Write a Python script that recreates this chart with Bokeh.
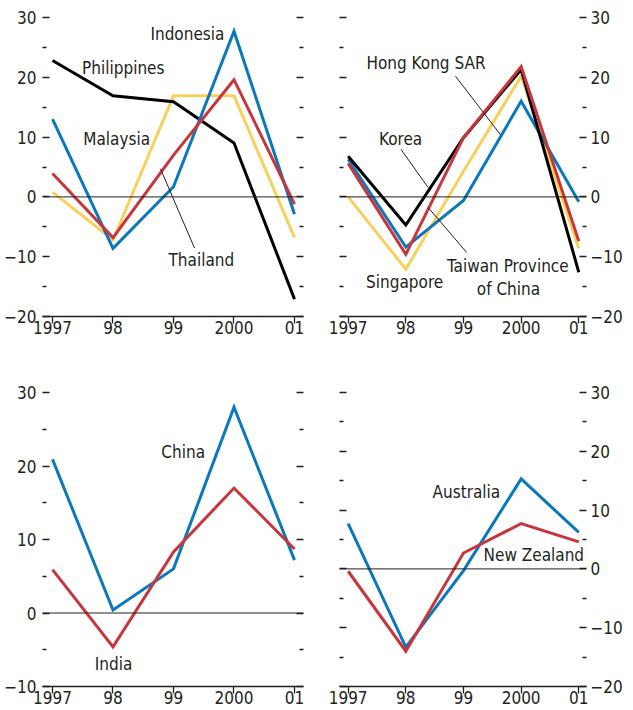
from bokeh.plotting import figure
from bokeh.models import FixedTicker, LinearAxis, Span, Row, Column, ColumnDataSource
from bokeh.core.properties import value
from bokeh.embed import file_html
from bokeh.resources import INLINE

# ---------------- data ----------------
years = [1997, 1998, 1999, 2000, 2001]
year_labels = ["1997", "98", "99", "2000", "01"]

# ASEAN-4
indonesia = [13.0, -8.6, 1.7, 27.7, -2.9]
philippines = [22.8, 16.9, 15.9, 9.0, -17.1]
thailand = [3.9, -6.8, 7.0, 19.6, -1.2]
malaysia = [0.8, -7.2, 16.9, 16.9, -6.8]

# NIEs
hong_kong = [6.3, -8.4, -0.6, 16.0, -0.8]
korea = [6.8, -4.7, 9.9, 21.3, -12.6]
taiwan = [5.6, -9.6, 9.9, 21.8, -7.4]
singapore = [0.0, -12.1, 4.3, 20.2, -8.6]

# China / India
china = [20.9, 0.4, 6.0, 28.0, 7.2]
india = [5.9, -4.6, 8.3, 17.0, 8.7]

# Australia / New Zealand
australia = [7.7, -13.3, -0.3, 15.3, 6.2]
new_zealand = [-0.4, -14.0, 2.7, 7.7, 4.6]

ticks_a = [-20, -10, 0, 10, 20, 30]
minor_a = [-15, -5, 5, 15, 25]
ticks_b = [-10, 0, 10, 20, 30]
minor_b = [-5, 5, 15, 25]

# ---------------- style ----------------
FONT = "DejaVu Sans Condensed, Liberation Sans"
INK = "#231f20"
BLUE = "#0a78be"
RED = "#c8363c"
YELLOW = "#f8d15c"
BLACK = "#000000"
FS = "17px"


def style_y(ax, ticks, minor, show_labels, standoff=6):
    ax.ticker = FixedTicker(ticks=ticks, minor_ticks=minor)
    ax.axis_line_color = None
    ax.major_tick_in = 7
    ax.major_tick_out = 0
    ax.minor_tick_in = 4
    ax.minor_tick_out = 0
    ax.major_tick_line_color = INK
    ax.minor_tick_line_color = INK
    ax.major_tick_line_width = 1.3
    ax.minor_tick_line_width = 1.3
    ax.major_label_standoff = standoff
    ax.major_label_text_font = FONT
    ax.major_label_text_color = INK
    if show_labels:
        ax.major_label_text_font_size = FS
    else:
        ax.major_label_text_font_size = "0px"
        ax.major_label_text_alpha = 0


def panel(xr, yr, ticks, minor, label_side, w, h, bl, br, bt, bb):
    p = figure(width=w, height=h, x_range=xr, y_range=yr,
               output_backend="svg", toolbar_location=None,
               min_border_left=bl, min_border_right=br,
               min_border_top=bt, min_border_bottom=bb,
               y_axis_location=label_side)
    p.outline_line_color = None
    p.grid.visible = False
    p.background_fill_color = "white"
    p.border_fill_color = "white"

    xa = p.xaxis[0]
    xa.ticker = FixedTicker(ticks=years)
    xa.major_label_overrides = {y: l for y, l in zip(years, year_labels)}
    xa.axis_line_color = INK
    xa.axis_line_width = 1.5
    xa.major_tick_in = 0
    xa.major_tick_out = 7
    xa.major_tick_line_color = INK
    xa.major_tick_line_width = 1.3
    xa.minor_tick_line_color = None
    xa.major_label_standoff = -3
    xa.major_label_text_font = FONT
    xa.major_label_text_font_size = FS
    xa.major_label_text_color = INK

    style_y(p.yaxis[0], ticks, minor, True, 6 if label_side == "left" else 4)
    other = LinearAxis()
    style_y(other, ticks, minor, False, 0)
    p.add_layout(other, "right" if label_side == "left" else "left")

    p.add_layout(Span(location=0, dimension="width", line_color=INK, line_width=1))
    return p


def draw(p, series, labels, leaders):
    for vals, color in series:
        p.line(years, vals, line_color=color, line_width=3, line_join="miter")
    if leaders:
        src = ColumnDataSource(dict(x0=[l[0] for l in leaders], y0=[l[1] for l in leaders],
                                    x1=[l[2] for l in leaders], y1=[l[3] for l in leaders]))
        p.segment("x0", "y0", "x1", "y1", source=src, line_color=INK, line_width=1)
    src = ColumnDataSource(dict(x=[l[1] for l in labels], y=[l[2] for l in labels],
                                t=[l[0] for l in labels]))
    p.text("x", "y", "t", source=src, text_font=value(FONT), text_font_size=FS,
           text_color=INK, text_align="center", text_baseline="middle")


XR_L = (1996.8347, 2001.1488)
XR_R = (1996.85, 2001.1333)

p1 = panel(XR_L, (-20, 30), ticks_a, minor_a, "left", 321, 346, 42, 18, 17, 30)
draw(p1, [(malaysia, YELLOW), (philippines, BLACK), (indonesia, BLUE), (thailand, RED)],
     [("Indonesia", 1999.23, 27.2), ("Philippines", 1998.17, 21.5),
      ("Malaysia", 1998.06, 9.7), ("Thailand", 1999.46, -10.6)],
     [(1998.785, 4.70, 1999.347, -8.56)])

p2 = panel(XR_R, (-20, 30), ticks_a, minor_a, "right", 304, 346, 18, 29, 17, 30)
draw(p2, [(singapore, YELLOW), (hong_kong, BLUE), (korea, BLACK), (taiwan, RED)],
     [("Hong Kong SAR", 1998.35, 22.4), ("Korea", 1997.91, 9.6),
      ("Singapore", 1997.98, -14.2), ("Taiwan Province", 1999.77, -11.5),
      ("of China", 1999.78, -15.4)],
     [(1998.862, 20.17, 1999.638, 10.45), (1997.917, 7.95, 1998.388, 1.55),
      (1999.055, -9.28, 1998.388, -1.78)])

p3 = panel(XR_L, (-10, 30), ticks_b, minor_b, "left", 321, 364, 42, 18, 46, 24)
draw(p3, [(china, BLUE), (india, RED)],
     [("China", 1999.16, 21.9), ("India", 1998.01, -7.0)], [])

p4 = panel(XR_R, (-20, 30), ticks_a, minor_a, "right", 304, 364, 18, 29, 46, 24)
draw(p4, [(australia, BLUE), (new_zealand, RED)],
     [("Australia", 1999.05, 13.0), ("New Zealand", 2000.22, 2.4)], [])

layout = Column(children=[Row(children=[p1, p2]), Row(children=[p3, p4])])

open("out.html", "w").write(file_html(layout, INLINE))
